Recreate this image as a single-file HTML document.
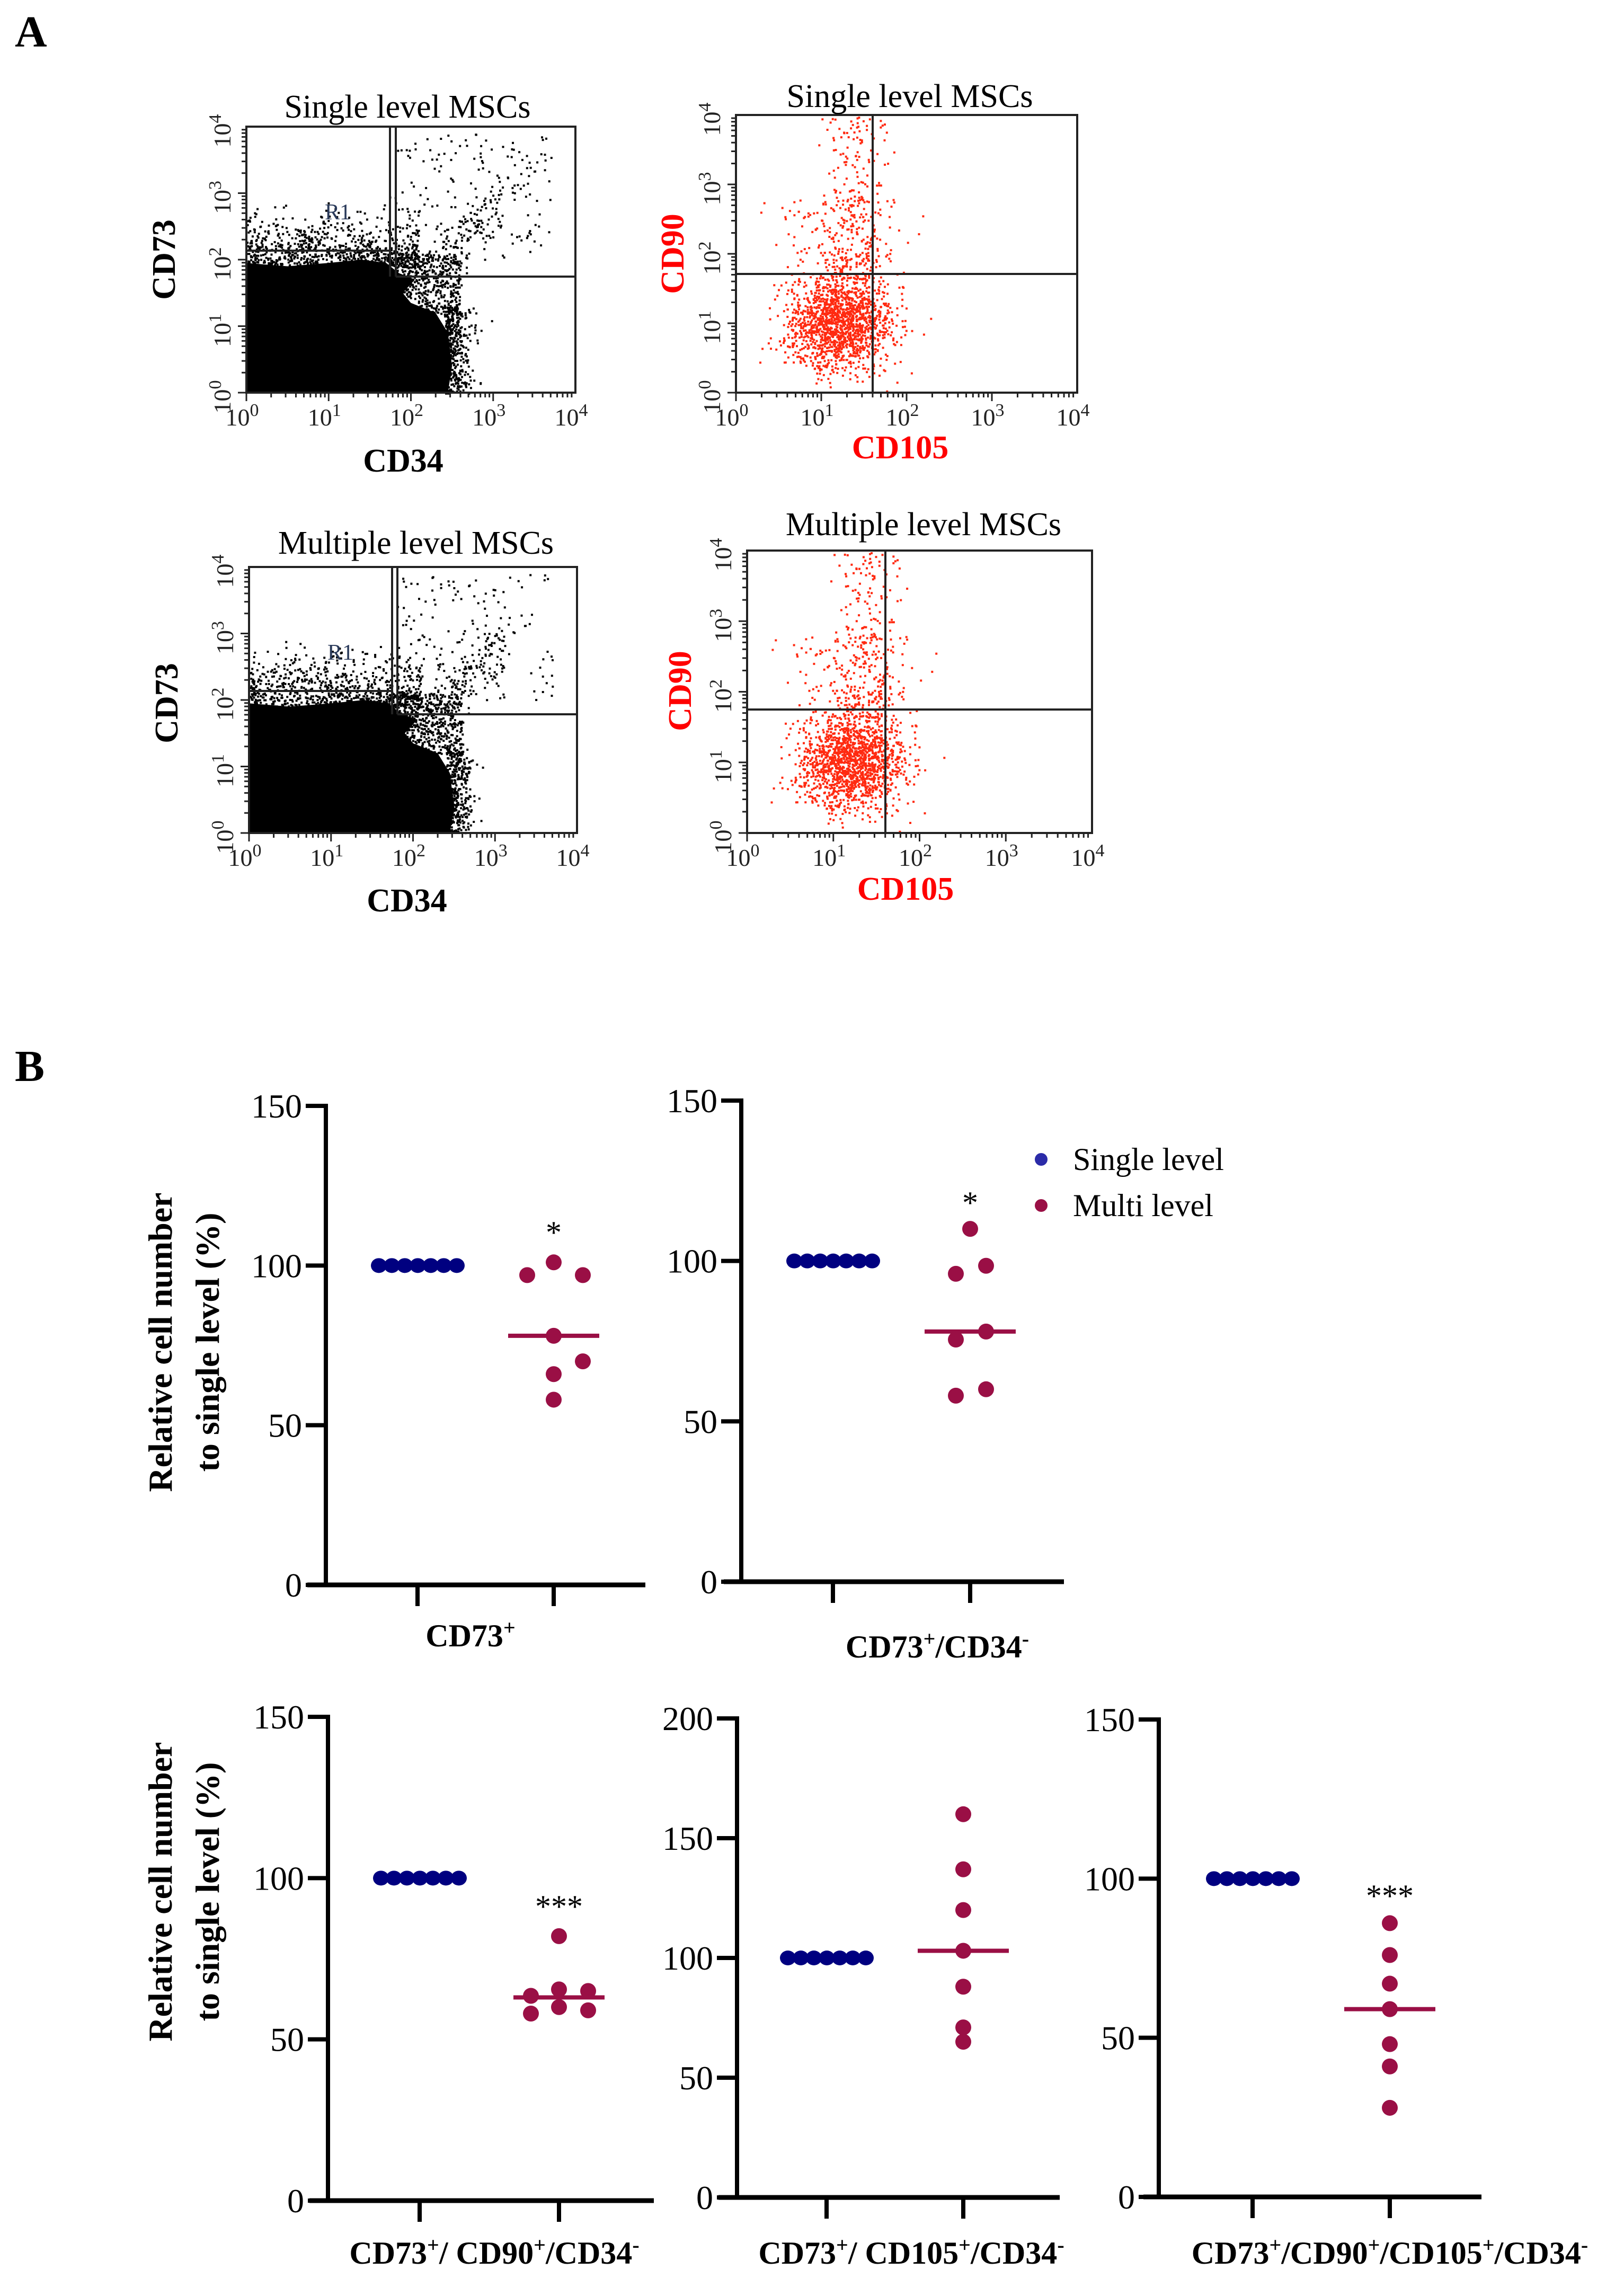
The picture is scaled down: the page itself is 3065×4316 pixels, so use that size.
<!DOCTYPE html>
<html><head><meta charset="utf-8"><style>
html,body{margin:0;padding:0;background:#fff}
svg{display:block}
text{font-family:"Liberation Serif",serif}
</style></head><body>
<svg id="fig" width="3065" height="4316" viewBox="0 0 3065 4316" xmlns="http://www.w3.org/2000/svg">
<rect width="3065" height="4316" fill="#fff"/>
<text x="28" y="88" font-size="84" font-weight="bold">A</text>
<text x="28" y="2040" font-size="84" font-weight="bold">B</text>
<g id="flow"></g>
<g id="dots"></g>
<g>
<circle cx="1965" cy="2188" r="12" fill="#2b2ba8"/>
<text x="2025" y="2208" font-size="60">Single level</text>
<circle cx="1965" cy="2275" r="12" fill="#9a0f45"/>
<text x="2025" y="2295" font-size="60">Multi level</text>
</g>
</svg>
<script>
// ---------- Panel B data ----------
const groups = ["Single level", "Multi level"];
const c1Single = [100,100,100,100,100,100,100];
const c1Multi = [101,97,97,78,70,66,58];
const c1Median = 78;
const c2Single = [100,100,100,100,100,100,100];
const c2Multi = [110,98.5,96,78,75.5,60,58];
const c2Median = 78;
const c3Single = [100,100,100,100,100,100,100];
const c3Multi = [82,65.5,65,63.5,60,59,58];
const c3Median = 63;
const c4Single = [100,100,100,100,100,100,100];
const c4Multi = [160,137,120,103,88,71,65];
const c4Median = 103;
const c5Single = [100,100,100,100,100,100,100];
const c5Multi = [86,76,67,59,48,41,28];
const c5Median = 59;
const c1Ticks = [0,50,100,150];
const c2Ticks = [0,50,100,150];
const c3Ticks = [0,50,100,150];
const c4Ticks = [0,50,100,150,200];
const c5Ticks = [0,50,100,150];
const categoryLabels = ["CD73+","CD73+/CD34-","CD73+/ CD90+/CD34-","CD73+/ CD105+/CD34-","CD73+/CD90+/CD105+/CD34-"];
const significance = ["*","*","***","","***"];

const NS = "http://www.w3.org/2000/svg";
function mk(tag, attrs, parent){const e=document.createElementNS(NS,tag);for(const k in attrs)e.setAttribute(k,attrs[k]);parent.appendChild(e);return e;}

const dotsG = document.getElementById('dots');
const layouts = [
 {ax:615, top:2087, bot:2991, xl:580, xr:1218, t1:788, t2:1045, lab:888, laby:3107, jit:[0,-50,55,0,55,0,0], star:2318},
 {ax:1399, top:2077, bot:2985, xl:1366, xr:2008, t1:1572, t2:1831, lab:1769, laby:3128, jit:[0,30,-27,30,-27,30,-27], star:2262},
 {ax:619, top:3240, bot:4153, xl:584, xr:1234, t1:792, t2:1055, lab:933, laby:4272, jit:[0,0,55,-53,0,55,-53], star:3590},
 {ax:1391, top:3243, bot:4147, xl:1356, xr:2000, t1:1560, t2:1818, lab:1720, laby:4272, jit:[0,0,0,0,0,0,0], star:0},
 {ax:2187, top:3245, bot:4146, xl:2158, xr:2796, t1:2364, t2:2623, lab:2623, laby:4272, jit:[0,0,0,0,0,0,0], star:3570}
];
const singles=[c1Single,c2Single,c3Single,c4Single,c5Single];
const multis=[c1Multi,c2Multi,c3Multi,c4Multi,c5Multi];
const medians=[c1Median,c2Median,c3Median,c4Median,c5Median];
const ticks=[c1Ticks,c2Ticks,c3Ticks,c4Ticks,c5Ticks];

layouts.forEach((L,i)=>{
  const g = mk('g',{},dotsG);
  
  
  const tk=ticks[i]; const ymax=tk[tk.length-1];
  const y=v=>L.bot-(v/ymax)*(L.bot-L.top);
  const ya=mk('line',{x1:L.ax,y1:L.top-4,x2:L.ax,y2:L.bot+4,stroke:'#000','stroke-width':8},g);
  
  
  const xa=mk('line',{x1:L.xl,y1:L.bot,x2:L.xr,y2:L.bot,stroke:'#000','stroke-width':9},g);
  
  
  tk.forEach(t=>{
    const tl=mk('line',{x1:L.ax-38,y1:y(t),x2:L.ax,y2:y(t),stroke:'#000','stroke-width':8},g);
    
    
    const tt=mk('text',{x:L.ax-45,y:y(t)+22,'font-size':64,'text-anchor':'end'},g);
    
    
    tt.textContent=t;
  });
  [L.t1,L.t2].forEach(tx=>{
    const xt=mk('line',{x1:tx,y1:L.bot,x2:tx,y2:L.bot+40,stroke:'#000','stroke-width':8},g);
    
    
  });
  const lab=categoryLabels[i];
  const lt=mk('text',{x:L.lab,y:L.laby,'font-size':60,'font-weight':'bold','text-anchor':'middle'},g);
  
  
  lab.split(/([+-])/).forEach(p=>{
    if(!p)return;
    const s=mk('tspan',{},lt);
    if(p==='+'||p==='-'){s.setAttribute('baseline-shift','super');s.setAttribute('font-size','40');}
    s.textContent=p;
  });
  const sv=singles[i];
  sv.forEach((v,k)=>{
    const c=mk('ellipse',{cx:L.t1-73+k*24.5,cy:y(v),rx:15,ry:14,fill:'#000080'},g);
    
    
  });
  const ml=mk('line',{x1:L.t2-86,y1:y(medians[i]),x2:L.t2+86,y2:y(medians[i]),stroke:'#9a0f45','stroke-width':8},g);
  
  
  multis[i].forEach((v,k)=>{
    const c=mk('ellipse',{cx:L.t2+L.jit[k],cy:y(v),rx:15,ry:15,fill:'#9a0f45'},g);
    
    
  });
  if(significance[i]){
    const st=mk('text',{x:L.t2,y:L.star+28,'font-size':60,'text-anchor':'middle'},g);
    
    
    st.textContent=significance[i];
  }
});
[[302,391,2533],[302,391,3570]].forEach(([x1,x2,cy])=>{
  const t=mk('text',{x:0,y:0,'font-size':64,'font-weight':'bold','text-anchor':'middle',transform:`translate(${x1+22},${cy}) rotate(-90)`},dotsG);
  
  
  t.textContent='Relative cell number';
  const t2=mk('text',{x:0,y:0,'font-size':64,'font-weight':'bold','text-anchor':'middle',transform:`translate(${x2+22},${cy}) rotate(-90)`},dotsG);
  
  
  t2.textContent='to single level (%)';
});

// ---------- Panel A flow cytometry ----------
let seed=12345;
function rnd(){seed=(seed*1103515245+12345)&0x7fffffff;return seed/0x7fffffff;}
function gauss(){return Math.sqrt(-2*Math.log(rnd()+1e-9))*Math.cos(2*Math.PI*rnd());}
const flowG=document.getElementById('flow');
const flows=[
 {x0:465,y0:239,x1:1086,y1:741,title:'Single level MSCs',tx:769,ty:222,xl:'CD34',yl:'CD73',lx:761,ly:890,yx:330,yy:490,col:'#000',vg:[736,747],hgL:473,hgR:522,kind:'bw'},
 {x0:1389,y0:217,x1:2033,y1:741,title:'Single level MSCs',tx:1717,ty:202,xl:'CD105',yl:'CD90',lx:1699,ly:865,yx:1290,yy:479,col:'#f00',vg:[1647],hg:517,kind:'red'},
 {x0:470,y0:1070,x1:1089,y1:1572,title:'Multiple level MSCs',tx:785,ty:1045,xl:'CD34',yl:'CD73',lx:768,ly:1720,yx:335,yy:1327,col:'#000',vg:[740,750],hgL:1304,hgR:1348,kind:'bw'},
 {x0:1410,y0:1039,x1:2061,y1:1572,title:'Multiple level MSCs',tx:1743,ty:1010,xl:'CD105',yl:'CD90',lx:1709,ly:1698,yx:1304,yy:1304,col:'#f00',vg:[1671],hg:1339,kind:'red'}
];
flows.forEach((F,i)=>{
  const g=mk('g',{},flowG);
  
  
  const W=F.x1-F.x0,H=F.y1-F.y0;
  const X=d=>F.x0+d/4*W, Y=d=>F.y1-d/4*H;
  const inside=mk('g',{},g);
  if(F.kind==='bw'){
    const poly=[[0,0],[0,1.95],[0.5,1.9],[1.0,1.95],[1.4,2.0],[1.7,1.95],[1.85,1.8],[2.05,1.7],[1.9,1.5],[2.0,1.35],[2.3,1.2],[2.45,0.9],[2.5,0.4],[2.45,0]];
    mk('polygon',{points:poly.map(p=>X(p[0])+','+Y(p[1])).join(' '),fill:'#000'},inside);
    let pts='';
    for(let k=0;k<1600;k++){
      let a=rnd()*2.1, b=1.9+Math.abs(gauss())*0.35;
      const r=rnd();
      if(r<0.3){a=1.7+rnd()*0.9;b=1.2+rnd()*0.9;}
      else if(r<0.4){a=1.8+rnd()*1.9;b=2+rnd()*1.9;}
      else if(r<0.5){a=1.9+rnd()*1.2;b=a-0.3+gauss()*0.2;}
      if(a>3.95||b>3.95||b<0)continue;
      pts+=`M${X(a).toFixed(1)},${Y(b).toFixed(1)}h4v4h-4z`;
    }
    for(let k=0;k<400;k++){const b=rnd()*1.3,a=2.4+Math.abs(gauss())*0.15;pts+=`M${X(a).toFixed(1)},${Y(b).toFixed(1)}h4v4h-4z`;}
    mk('path',{d:pts,fill:'#000'},inside);
  } else {
    let pts='';
    const cx=1.2, cy=1.05;
    for(let k=0;k<3200;k++){
      let a=cx+gauss()*0.3, b=cy+gauss()*0.35;
      const r=rnd();
      if(r<0.12){a=1.4+gauss()*0.2;b=1.8+rnd()*2.2;}
      else if(r<0.18){a=1.2+gauss()*0.35;b=1.6+rnd()*1.2;}
      if(a<0.02||b<0.02||a>3.9||b>3.98)continue;
      pts+=`M${X(a).toFixed(1)},${Y(b).toFixed(1)}h4v4h-4z`;
    }
    mk('path',{d:pts,fill:'#ff2a10'},inside);
  }
  mk('rect',{x:F.x0,y:F.y0,width:W,height:H,fill:'none',stroke:'#222','stroke-width':4},g);
  if(F.kind==='bw'){
    F.vg.forEach(v=>mk('line',{x1:v,y1:F.y0,x2:v,y2:F.hgR,stroke:'#222','stroke-width':4},g));
    mk('line',{x1:F.x0,y1:F.hgL,x2:F.vg[0],y2:F.hgL,stroke:'#222','stroke-width':4},g);
    mk('line',{x1:F.vg[1],y1:F.hgR,x2:F.x1,y2:F.hgR,stroke:'#222','stroke-width':4},g);
    const r1=mk('text',{x:F.x0+148,y:F.y0+175,'font-size':42,fill:'#2a3a5a','font-family':'Liberation Sans'},g);
    
    
    r1.textContent='R1';
  } else {
    mk('line',{x1:F.vg[0],y1:F.y0,x2:F.vg[0],y2:F.y1,stroke:'#222','stroke-width':4},g);
    mk('line',{x1:F.x0,y1:F.hg,x2:F.x1,y2:F.hg,stroke:'#222','stroke-width':4},g);
  }
  for(let d=0;d<4;d++){for(let m=1;m<10;m++){const off=Math.log10(m);const len=m===1?16:9;
    mk('line',{x1:X(d+off),y1:F.y1,x2:X(d+off),y2:F.y1+len,stroke:'#222','stroke-width':3},g);
    mk('line',{x1:F.x0,y1:Y(d+off),x2:F.x0-len,y2:Y(d+off),stroke:'#222','stroke-width':3},g);}}
  for(let d=0;d<=4;d++){
    const t=mk('text',{x:X(d)-8,y:F.y1+62,'font-size':46,'text-anchor':'middle','font-family':'Liberation Sans',fill:'#222'},g);
    
    
    t.textContent='10';
    const s=mk('tspan',{dy:-18,'font-size':34},t);s.textContent=d;
    const ty=mk('text',{x:0,y:0,'font-size':46,'text-anchor':'middle','font-family':'Liberation Sans',fill:'#222',transform:`translate(${F.x0-30},${Y(d)+8}) rotate(-90)`},g);
    
    
    ty.textContent='10';
    const s2=mk('tspan',{dy:-18,'font-size':34},ty);s2.textContent=d;
  }
  const tt=mk('text',{x:F.tx,y:F.ty,'font-size':62,'text-anchor':'middle'},g);
  
  
  tt.textContent=F.title;
  const xl=mk('text',{x:F.lx,y:F.ly,'font-size':62,'font-weight':'bold','text-anchor':'middle',fill:F.col},g);
  
  
  xl.textContent=F.xl;
  const yl=mk('text',{x:0,y:0,'font-size':62,'font-weight':'bold','text-anchor':'middle',fill:F.col,transform:`translate(${F.yx},${F.yy}) rotate(-90)`},g);
  
  
  yl.textContent=F.yl;
});
</script>
</body></html>
